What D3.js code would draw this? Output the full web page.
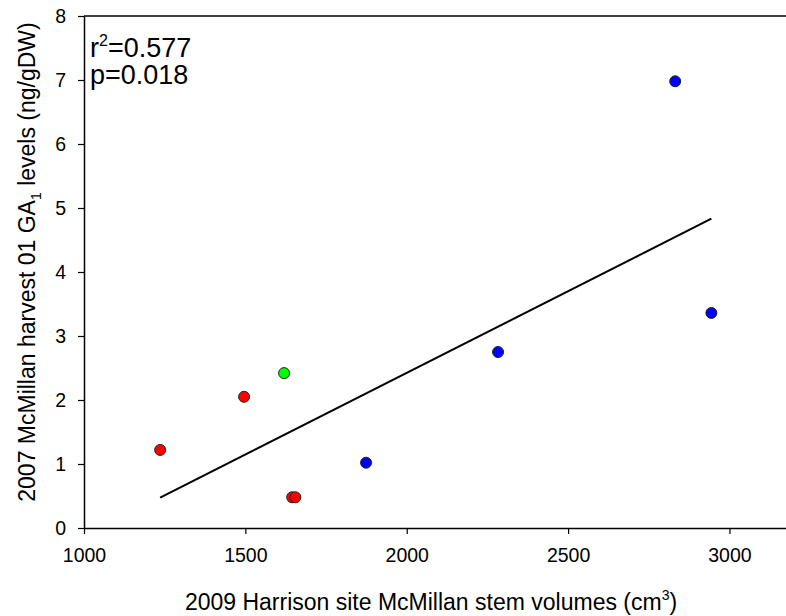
<!DOCTYPE html>
<html>
<head>
<meta charset="utf-8">
<script src="https://cdn.jsdelivr.net/npm/d3@7"></script>
<style>
  html, body { margin: 0; padding: 0; background: #fff; overflow: hidden; width: 786px; height: 616px; }
  text { font-family: "Liberation Sans", Arial, sans-serif; fill: #000; }
</style>
</head>
<body>
<div id="chart"></div>
<script>
// stem volume (cm3) vs GA1 level (ng/gDW), one colour per group
const volumes = [1236, 1496, 1645, 1655, 1620, 1874, 2283, 2832, 2944];
const gaLevels = [1.22, 2.05, 0.48, 0.48, 2.42, 1.02, 2.75, 6.98, 3.36];
const groups = ["red", "red", "red", "red", "green", "blue", "blue", "blue", "blue"];
const xTicks = [1000, 1500, 2000, 2500, 3000];
const yTicks = [0, 1, 2, 3, 4, 5, 6, 7, 8];

const groupColors = { red: "#ff0000", green: "#00ff00", blue: "#0000ff" };

const width = 786, height = 616;
const margin = { top: 16, left: 84, bottom: 88 };

const svg = d3.select("#chart").append("svg")
  .attr("width", width)
  .attr("height", height)
  .style("display", "block");

svg.append("rect")
  .attr("width", width)
  .attr("height", height)
  .attr("fill", "#fff");

const x = d3.scaleLinear().domain([1000, 3200]).range([margin.left, 794]);
const y = d3.scaleLinear().domain([0, 8]).range([height - margin.bottom, margin.top]);

// top edge of the frame (right edge falls outside the window)
svg.append("line")
  .attr("x1", x(1000))
  .attr("x2", width)
  .attr("y1", y(8))
  .attr("y2", y(8))
  .attr("stroke", "#000")
  .attr("stroke-width", 1.5);

const xAxis = svg.append("g")
  .attr("transform", "translate(0," + y(0) + ")")
  .call(d3.axisBottom(x).tickValues(xTicks).tickSize(6).tickSizeOuter(0).tickPadding(14).tickFormat(d3.format("d")));

const yAxis = svg.append("g")
  .attr("transform", "translate(" + x(1000) + ",0)")
  .call(d3.axisLeft(y).tickValues(yTicks).tickSize(6).tickSizeOuter(0).tickPadding(12).tickFormat(d3.format("d")));

[xAxis, yAxis].forEach(function(ax) {
  ax.select(".domain").attr("stroke-width", 1.5);
  ax.selectAll(".tick line").attr("stroke-width", 1.2);
  ax.selectAll(".tick text")
    .style("font-family", "'Liberation Sans', Arial, sans-serif")
    .style("font-size", "19.5px")
    .attr("fill", "#000");
});

// least squares fit over the data range
const n = volumes.length;
const mx = d3.mean(volumes), my = d3.mean(gaLevels);
let sxy = 0, sxx = 0;
for (let i = 0; i < n; i++) {
  sxy += (volumes[i] - mx) * (gaLevels[i] - my);
  sxx += (volumes[i] - mx) * (volumes[i] - mx);
}
const slope = sxy / sxx, intercept = my - slope * mx;
const fitX = d3.extent(volumes);

svg.append("line")
  .attr("x1", x(fitX[0]))
  .attr("y1", y(intercept + slope * fitX[0]))
  .attr("x2", x(fitX[1]))
  .attr("y2", y(intercept + slope * fitX[1]))
  .attr("stroke", "#000")
  .attr("stroke-width", 2);

svg.append("g")
  .selectAll("circle")
  .data(volumes)
  .enter()
  .append("circle")
  .attr("cx", (d) => x(d))
  .attr("cy", (d, i) => y(gaLevels[i]))
  .attr("r", 5.5)
  .attr("fill", (d, i) => groupColors[groups[i]])
  .attr("stroke", "#222")
  .attr("stroke-width", 1);

// stats annotation
const r2 = svg.append("text")
  .attr("x", 90)
  .attr("y", 57)
  .style("font-size", "27px");
r2.append("tspan").text("r");
r2.append("tspan").attr("dy", -11).style("font-size", "16px").text("2");
r2.append("tspan").attr("dy", 11).text("=0.577");

svg.append("text")
  .attr("x", 90)
  .attr("y", 84)
  .style("font-size", "27px")
  .text("p=0.018");

// axis titles
const xTitle = svg.append("text")
  .attr("x", 431)
  .attr("y", 610)
  .attr("text-anchor", "middle")
  .style("font-size", "23px");
xTitle.append("tspan").text("2009 Harrison site McMillan stem volumes (cm");
xTitle.append("tspan").attr("dy", -10).style("font-size", "14px").text("3");
xTitle.append("tspan").attr("dy", 10).text(")");

const yTitle = svg.append("text")
  .attr("transform", "translate(35,262) rotate(-90)")
  .attr("text-anchor", "middle")
  .style("font-size", "23px");
yTitle.append("tspan").text("2007 McMillan harvest 01 GA");
yTitle.append("tspan").attr("dy", 6).style("font-size", "14px").text("1");
yTitle.append("tspan").attr("dy", -6).text(" levels (ng/gDW)");
</script>
</body>
</html>
